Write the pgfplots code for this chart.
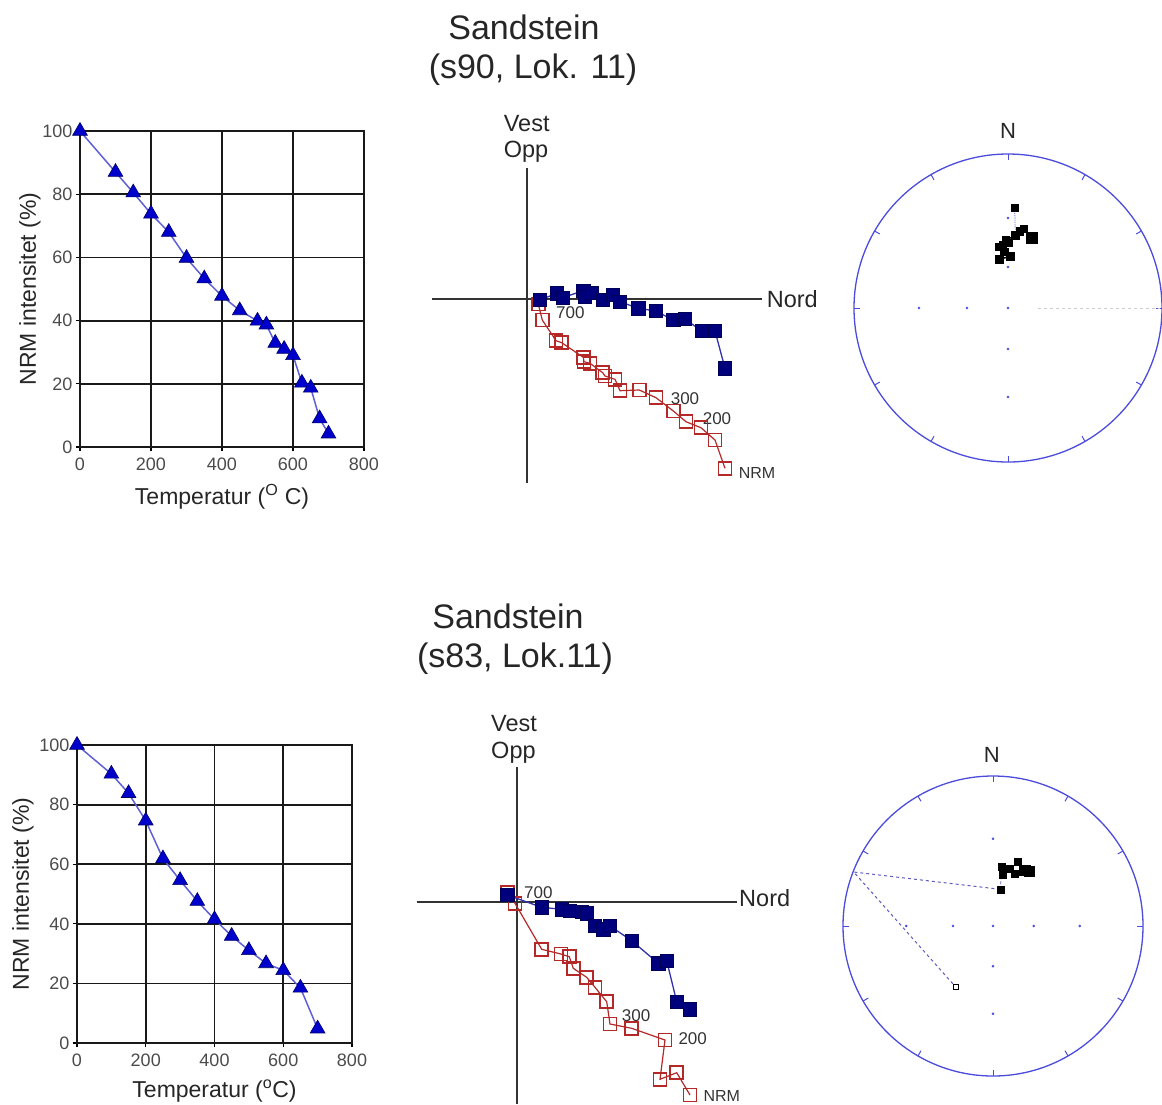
\documentclass[border=0pt]{standalone}
\usepackage{fontspec}
\setmainfont{Liberation Sans}
\usepackage{pgfplots}
\pgfplotsset{compat=1.18}
\definecolor{trifill}{RGB}{0,0,205}
\definecolor{triline}{RGB}{95,95,215}
\definecolor{zblue}{RGB}{0,0,125}
\definecolor{zblueline}{RGB}{50,50,170}
\definecolor{zred}{RGB}{180,40,40}
\definecolor{snblue}{RGB}{75,75,220}
\definecolor{ticktext}{RGB}{75,75,75}
\tikzset{
  lab/.style={font=\fontsize{17}{19}\selectfont, text=black!80},
  dirlab/.style={font=\fontsize{23.5}{26}\selectfont, text=black!85},
}
\pgfplotsset{
  decay/.style={
    scale only axis, anchor=south west, enlargelimits=false,
    xmin=0,xmax=800,ymin=0,ymax=100,
    xtick={0,200,...,800}, ytick={0,20,...,100},
    grid=major,
    major grid style={black!90, line width=1.8pt},
    axis line style={black!90, line width=1.8pt},
    tick style={black, line width=1.2pt},
    tick align=outside, major tick length=4pt,
    xtick pos=left, ytick pos=left,
    ticklabel style={font=\fontsize{18}{20}\selectfont, text=ticktext},
    xticklabel style={yshift=-3pt},
    /pgf/number format/assume math mode=true,
    label style={font=\fontsize{23}{26}\selectfont, text=black!85},
    xlabel style={yshift=-7pt},
    ylabel={NRM intensitet (\%)},
    clip=false,
  },
  decayline/.style={triline, line width=1.5pt, mark=triangle*, mark size=8.5pt,
    mark options={fill=trifill, draw=black!60!blue, line width=0.6pt}},
  zij/.style={hide axis, x=1pt, y=1pt, clip=false, anchor=south west, enlargelimits=false},
  sn/.style={hide axis, x=1pt, y=1pt, xmin=-160, xmax=160, ymin=-160, ymax=160,
    clip=false, anchor=south west, enlargelimits=false},
  hor/.style={zblueline, line width=1.3pt, mark=square*, mark size=6.7pt,
    mark options={fill=zblue, draw=zblue!70!black, line width=0.5pt}},
  ver/.style={zred, line width=1.2pt, mark=square, mark size=6.5pt,
    mark options={draw=zred, line width=1.7pt}},
  cross/.style={black!80, line width=2pt, mark=none},
}
\begin{document}
\begin{tikzpicture}
\path[use as bounding box] (0pt,0pt) rectangle (1162pt,-1104pt);

% Titles
\node[anchor=base, font=\fontsize{34}{40}\selectfont, text=black!85] at (524pt,-39pt) {Sandstein};
\node[anchor=base, font=\fontsize{34}{40}\selectfont, text=black!85] at (533pt,-78pt) {(s90, Lok. 11)};
\node[anchor=base, font=\fontsize{34}{40}\selectfont, text=black!85] at (508pt,-628pt) {Sandstein};
\node[anchor=base, font=\fontsize{34}{40}\selectfont, text=black!85] at (515pt,-667pt) {(s83, Lok.11)};

% ---------- Top-left decay ----------
\begin{axis}[decay, at={(80pt,-447pt)}, width=284pt, height=316pt,
  ylabel style={yshift=-5pt},
  xlabel={Temperatur (\textsuperscript{O} C)}]
\addplot[decayline] coordinates {
(0,100)(100,87)(150,80.5)(200,73.8)(250,68)(300,59.8)(350,53.3)(400,47.8)
(450,43.2)(500,39.9)(525,38.7)(550,32.9)(575,31)(600,29)(625,20.3)(650,18.7)
(675,9)(700,4.2)};
\end{axis}

% ---------- Bottom-left decay ----------
\begin{axis}[decay, at={(77pt,-1043pt)}, width=275pt, height=298pt,
  ylabel style={yshift=-1pt},
  xlabel={Temperatur (\textsuperscript{o}C)}]
\addplot[decayline] coordinates {
(0,100)(100,90.3)(150,83.8)(200,74.6)(250,61.9)(300,54.6)(350,47.6)(400,41.5)
(450,35.9)(500,31.1)(550,26.7)(600,24.4)(650,18.5)(700,4.8)};
\end{axis}

% ---------- Top Zijderveld ----------
\begin{axis}[zij, at={(432.3pt,-484.3pt)}, xmin=-95, xmax=240, ymin=-185, ymax=132]
\addplot[cross] coordinates {(-95.3,0)(234.7,0)};
\addplot[cross] coordinates {(0,131)(0,-184)};
\addplot[ver] coordinates {
(11,-4.7)(15,-20.7)(28.7,-41.4)(34.4,-43.4)(56,-58)(56.7,-62.4)(62.7,-64)
(75.4,-73.4)(77.7,-76.7)(87.7,-80)(92.7,-91.4)(112,-90.7)(128.7,-98.4)
(146,-111.7)(158.7,-122.4)(173.7,-128.4)(187.7,-140.7)(197.7,-169)};
\addplot[hor] coordinates {
(12.7,-0.7)(29.4,6)(35.4,1.7)(56,8.6)(57.7,2.6)(64.4,6.6)(75.4,-0.7)(85.4,4.3)
(92.7,-2.4)(111,-9)(128.4,-11.7)(146,-20.7)(157.7,-19.7)(174.4,-31.7)
(187.7,-31.7)(197.7,-69)};
\node[lab, anchor=base west] at (axis cs:25.4,-19) {700};
\node[lab, anchor=base west] at (axis cs:140,-104.7) {300};
\node[lab, anchor=base west] at (axis cs:172,-124.7) {200};
\node[lab, anchor=base west, font=\fontsize{16}{18}\selectfont] at (axis cs:208,-179) {NRM};
\node[dirlab, anchor=base west] at (axis cs:-27,167.6) {Vest};
\node[dirlab, anchor=base west] at (axis cs:-27,142) {Opp};
\node[dirlab, anchor=base west] at (axis cs:236,-8) {Nord};
\end{axis}

% ---------- Bottom Zijderveld ----------
\begin{axis}[zij, at={(416.7pt,-1104pt)}, xmin=-100, xmax=225, ymin=-201.7, ymax=140]
\addplot[cross] coordinates {(-100,0)(220,0)};
\addplot[cross] coordinates {(0,135.6)(0,-201.7)};
\addplot[ver] coordinates {
(-9.4,9.6)(-1.7,-1)(25,-47)(44.3,-51.7)(52.6,-54.4)(56.6,-66)(70,-75)(78.3,-85)
(90,-99.4)(93.3,-121.7)(115,-126)(148.3,-137.7)(143.3,-177)(160,-170.4)(173.3,-192.7)};
\addplot[hor] coordinates {
(-9.4,7.3)(25,-5)(45,-7)(53.3,-8.4)(65,-9.4)(70,-11)(78.3,-23.7)(86.6,-27)
(93.3,-23.7)(115,-38.4)(141.6,-61)(150,-58.4)(160,-99.4)(173.3,-107)};
\node[lab, anchor=base west] at (axis cs:4,4) {700};
\node[lab, anchor=base west] at (axis cs:101.7,-118.7) {300};
\node[lab, anchor=base west] at (axis cs:158.3,-142) {200};
\node[lab, anchor=base west, font=\fontsize{16}{18}\selectfont] at (axis cs:183.3,-199.4) {NRM};
\node[dirlab, anchor=base west] at (axis cs:-29,170.6) {Vest};
\node[dirlab, anchor=base west] at (axis cs:-29,144.3) {Opp};
\node[dirlab, anchor=base west] at (axis cs:219,-4.4) {Nord};
\end{axis}

% ---------- Top stereonet ----------
\begin{axis}[sn, at={(848pt,-468pt)}]
\draw[snblue, line width=1.3pt] (axis cs:0,0) circle[radius=154pt];
\pgfplotsinvokeforeach{0,30,...,330}{
  \draw[snblue, line width=1pt] (axis cs:0,0) ++(#1:154pt) -- ++(#1+180:6pt);
}
\addplot[only marks, mark=*, mark size=1.1pt, snblue] coordinates {
(-89,0)(-41,0)(0,0)(0,90)(0,41)(0,-41)(0,-89)};
\addplot[black!20, dashed, line width=0.8pt] coordinates {(30,0)(152,0)};
\addplot[snblue, densely dotted, line width=0.8pt] coordinates {(6.7,100.3)(7.3,72.7)};
\addplot[zblue, line width=1.2pt, mark=square*, mark size=3.6pt,
  mark options={fill=black, draw=black}] coordinates {
(6.7,100.3)};
\addplot[black, line width=1.5pt, mark=square*, mark size=3.6pt,
  mark options={fill=black, draw=black}] coordinates {
(16,79)(12,76.5)(7.3,72.7)(-2,67.7)(0.7,65)(-5,63)(-8.3,61)(-3.7,56)(2.3,51.7)(-8.7,48.7)};
\addplot[only marks, mark=square*, mark size=5.5pt, mark options={fill=black, draw=black}]
  coordinates {(24,70.3)};
\node[dirlab, anchor=base, font=\fontsize{22}{24}\selectfont] at (axis cs:0,169.7) {N};
\end{axis}

% ---------- Bottom stereonet ----------
\begin{axis}[sn, at={(833pt,-1086pt)}]
\draw[snblue, line width=1.3pt] (axis cs:0,0) circle[radius=150pt];
\pgfplotsinvokeforeach{0,30,...,330}{
  \draw[snblue, line width=1pt] (axis cs:0,0) ++(#1:150pt) -- ++(#1+180:6pt);
}
\addplot[only marks, mark=*, mark size=1.1pt, snblue] coordinates {
(-86.7,0)(-40,0)(0,0)(40.7,0)(86.7,0)(0,87.3)(0,-40.3)(0,-87.7)};
\addplot[snblue!70!gray, dashed, line width=1pt] coordinates {(7.3,36.7)(-139.3,54)(-37.3,-61)};
\addplot[snblue!70!gray, densely dashed, line width=0.8pt] coordinates {(7.3,36.7)(8.3,50)};
\addplot[only marks, mark=square*, mark size=3.6pt, mark options={fill=black, draw=black}]
  coordinates {(8.3,59)(10,51.7)(16.7,57.3)(21.7,52.3)(25,64)(7.3,36.7)};
\addplot[only marks, mark=square*, mark size=5.3pt, mark options={fill=black, draw=black}]
  coordinates {(31.7,55.7)(36,55)};
\addplot[only marks, mark=square*, mark size=2.6pt, mark options={fill=white, draw=black, line width=0.8pt}]
  coordinates {(-37.3,-61)};
\node[dirlab, anchor=base, font=\fontsize{22}{24}\selectfont] at (axis cs:-1.3,163.3) {N};
\end{axis}
\end{tikzpicture}
\end{document}
